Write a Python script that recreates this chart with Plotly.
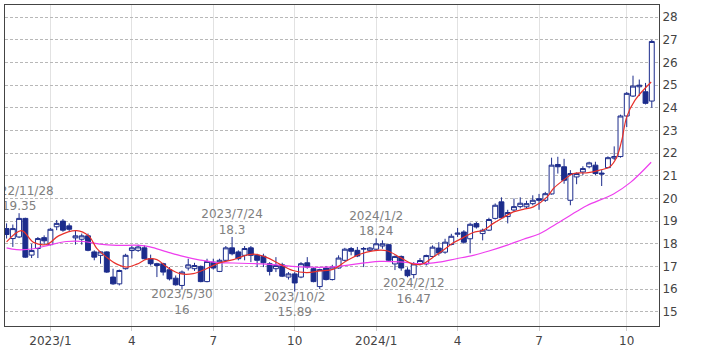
import pandas as pd
import plotly.graph_objects as go

# ---- weekly bars (week starting Monday) ----
start_week = "2022-11-14"
opens = [18.67, 18.23, 18.30, 19.12, 17.50, 17.79, 18.27, 17.96, 18.75, 19.00,
         18.79, 18.26, 18.20, 18.35, 17.64, 17.49, 17.64, 16.53, 16.23, 16.90,
         17.70, 17.71, 17.82, 17.34, 17.12, 17.12, 16.85, 16.48, 16.16, 16.93,
         16.90, 17.00, 16.33, 17.19, 16.78, 17.27, 17.82, 17.64, 17.49, 17.82,
         17.49, 17.45, 17.12, 16.90, 17.07, 16.53, 16.67, 16.53, 17.16, 16.90,
         16.11, 16.93, 16.42, 16.93, 17.27, 17.79, 17.71, 17.76, 17.71, 17.76,
         17.90, 17.96, 17.11, 17.44, 16.84, 16.64, 17.11, 17.11, 17.44, 17.81,
         17.63, 17.97, 18.42, 18.52, 18.22, 18.89, 18.45, 18.60, 19.12, 19.85,
         19.20, 19.49, 19.64, 19.63, 19.77, 19.99, 19.92, 20.20, 21.50, 21.40,
         19.92, 20.95, 21.17, 21.40, 21.47, 21.12, 21.36, 21.78, 21.85, 23.64,
         24.52, 24.93, 24.71, 24.30]
highs = [18.90, 18.85, 19.35, 19.15, 18.00, 18.30, 18.37, 18.70, 19.05, 19.09,
         18.90, 18.57, 18.45, 18.45, 17.71, 17.67, 17.67, 16.90, 16.86, 17.56,
         17.90, 17.96, 17.93, 17.52, 17.16, 17.16, 16.97, 16.60, 16.82, 17.34,
         17.16, 17.04, 17.34, 17.34, 17.34, 17.90, 18.30, 17.71, 17.90, 17.90,
         17.56, 17.56, 17.19, 17.41, 17.16, 16.75, 16.75, 17.19, 17.41, 16.97,
         16.90, 17.02, 17.07, 17.49, 17.82, 17.86, 17.86, 17.86, 17.86, 18.24,
         18.15, 18.00, 17.48, 17.48, 16.96, 17.19, 17.37, 17.52, 17.93, 18.07,
         18.22, 18.44, 18.70, 18.60, 18.93, 18.96, 18.67, 19.15, 19.78, 20.05,
         19.50, 20.00, 20.05, 19.90, 20.14, 20.20, 20.29, 21.80, 21.84, 21.75,
         21.25, 21.15, 21.42, 21.62, 21.62, 21.25, 21.86, 22.30, 23.70, 24.70,
         25.42, 25.25, 25.10, 27.00]
lows = [18.23, 17.86, 18.25, 17.38, 17.37, 17.37, 17.96, 17.93, 18.60, 18.53,
        18.53, 17.96, 17.96, 17.67, 17.27, 17.12, 16.71, 16.19, 16.16, 16.86,
        17.35, 17.64, 17.31, 17.04, 16.53, 16.60, 16.38, 16.15, 16.00, 16.82,
        16.80, 16.30, 16.30, 16.86, 16.75, 17.22, 17.49, 17.27, 17.27, 17.19,
        16.97, 16.97, 16.60, 16.75, 16.53, 16.42, 15.89, 16.48, 16.90, 16.30,
        16.00, 16.38, 16.38, 16.90, 17.22, 17.49, 17.41, 16.97, 17.64, 17.70,
        17.78, 17.20, 16.84, 16.81, 16.52, 16.47, 17.04, 17.04, 17.41, 17.48,
        17.56, 17.93, 18.30, 18.00, 17.58, 18.67, 18.15, 18.56, 19.07, 19.10,
        18.90, 19.41, 19.56, 19.55, 19.70, 19.50, 19.85, 20.17, 21.10, 20.65,
        19.70, 20.63, 21.03, 21.33, 21.03, 20.55, 21.33, 21.70, 21.80, 23.15,
        24.48, 24.52, 24.15, 24.00]
closes = [18.41, 18.67, 19.12, 17.41, 17.70, 18.23, 18.13, 18.64, 18.90, 18.60,
          18.64, 18.35, 18.35, 17.71, 17.41, 17.64, 16.75, 16.23, 16.82, 17.49,
          17.82, 17.86, 17.34, 17.12, 17.04, 16.75, 16.45, 16.19, 16.75, 17.07,
          17.04, 16.33, 17.22, 16.93, 17.27, 17.82, 17.56, 17.34, 17.79, 17.49,
          17.27, 17.16, 16.78, 17.04, 16.57, 16.67, 16.27, 17.12, 16.97, 16.33,
          16.86, 16.42, 16.97, 17.37, 17.76, 17.67, 17.46, 17.79, 17.81, 18.00,
          18.00, 17.27, 17.44, 16.93, 16.59, 17.11, 17.26, 17.48, 17.85, 17.59,
          18.07, 18.33, 18.47, 18.07, 18.86, 18.74, 18.60, 19.07, 19.70, 19.15,
          19.38, 19.64, 19.79, 19.77, 19.92, 19.92, 20.21, 21.47, 21.40, 20.80,
          21.10, 21.10, 21.32, 21.57, 21.10, 21.08, 21.80, 21.85, 23.64, 24.64,
          24.96, 25.00, 24.20, 26.93]

# ---- moving averages (bar position, value) ----
ma13_pos = [0, 2.4, 4.3, 6.5, 8.3, 11.2, 13.1, 14.4, 16, 17.6, 19.2, 20.8, 22.4,
            24, 25.6, 27.7, 29.8, 31.9, 34.1, 36.2, 37.2, 39.4, 41.5, 43.6, 45.7,
            47.9, 50, 52.2, 54.3, 56.4, 58.5, 60.7, 62.8, 64.9, 66.5, 68.1, 69.7,
            71.3, 72.9, 74.5, 76.1, 77.7, 79.3, 80.9, 82.5, 84.1, 86.3, 87.3, 88.9,
            90.5, 92.6, 94.7, 96.3, 97.4, 98.2, 99, 100.3, 102.9]
ma13_val = [18.08, 18.58, 18.06, 17.98, 18.35, 18.58, 18.35, 17.80, 17.40, 17.10,
            16.97, 17.10, 17.32, 17.30, 16.97, 16.68, 16.68, 16.90, 17.17, 17.30,
            17.40, 17.54, 17.40, 17.10, 16.82, 16.73, 16.80, 16.88, 17.25, 17.54,
            17.69, 17.69, 17.40, 17.10, 17.12, 17.41, 17.71, 18.04, 18.27, 18.50,
            18.60, 18.90, 19.16, 19.41, 19.52, 19.63, 20.07, 20.44, 20.81, 21.10,
            21.13, 21.25, 21.40, 21.82, 22.56, 23.60, 24.33, 25.14]
ma26_pos = [0, 1.6, 4.3, 6.9, 9.6, 12.3, 14.9, 17.6, 21.3, 22.9, 25.6, 28.2, 30.9,
            33.5, 36.2, 41.5, 46.8, 52.2, 57.5, 59.6, 62.8, 66, 69, 71.8, 74.5, 77,
            79.8, 82.5, 85, 87.3, 89.9, 92.6, 96.9, 99.6, 102.9]
ma26_val = [17.82, 17.74, 17.78, 17.95, 18.10, 18.10, 17.98, 17.93, 17.93, 17.86,
            17.64, 17.44, 17.28, 17.17, 17.15, 17.10, 16.98, 16.98, 17.17, 17.22,
            17.20, 17.12, 17.19, 17.34, 17.49, 17.68, 17.93, 18.20, 18.43, 18.80,
            19.24, 19.68, 20.20, 20.71, 21.60]

# ---- high / low labels ----
ann_pos = [2, 28, 36, 46, 59, 65]
ann_date = ["2022/11/28", "2023/5/30", "2023/7/24", "2023/10/2", "2024/1/2", "2024/2/12"]
ann_val = [19.35, 16.00, 18.30, 15.89, 18.24, 16.47]
ann_label = ["19.35", "16", "18.3", "15.89", "18.24", "16.47"]
ann_side = ["top", "bottom", "top", "bottom", "top", "bottom"]

weeks = pd.date_range(start_week, periods=len(opens), freq="W-MON")
idx = list(range(len(opens)))

# ticks: first weekly bar of Jan/Apr/Jul/Oct
tick_vals, tick_text = [], []
prev_m = None
for i, d in enumerate(weeks):
    if d.month != prev_m and d.month in (1, 4, 7, 10):
        tick_vals.append(i)
        tick_text.append(f"{d.year}/1" if d.month == 1 else str(d.month))
    prev_m = d.month

NAVY = "#1c2c8c"
FONT = "DejaVu Sans"

fig = go.Figure()
fig.add_trace(go.Candlestick(
    x=idx, open=opens, high=highs, low=lows, close=closes,
    increasing=dict(line=dict(color=NAVY, width=1), fillcolor="white"),
    decreasing=dict(line=dict(color=NAVY, width=1), fillcolor=NAVY),
    whiskerwidth=0, hoverinfo="skip",
))
fig.add_trace(go.Scatter(x=ma26_pos, y=ma26_val, mode="lines",
                         line=dict(color="#ee3fee", width=1.2, shape="spline")))
fig.add_trace(go.Scatter(x=ma13_pos, y=ma13_val, mode="lines",
                         line=dict(color="#e8302a", width=1.2, shape="spline")))
for p, dte, v, lab, side in zip(ann_pos, ann_date, ann_val, ann_label, ann_side):
    fig.add_trace(go.Scatter(
        x=[p], y=[v], mode="text", text=[f"{dte}<br>{lab}"],
        textposition=f"{side} center", cliponaxis=True,
        textfont=dict(family=FONT, size=12, color="#808080"),
    ))

fig.update_layout(
    width=709, height=354,
    margin=dict(l=5, r=50, t=5, b=28),
    paper_bgcolor="white", plot_bgcolor="white",
    showlegend=False, boxgap=0.22, boxgroupgap=0,
    font=dict(family=FONT, size=12, color="#444"),
)
fig.update_xaxes(
    range=[-0.25, 104.15], tickmode="array", tickvals=tick_vals, ticktext=tick_text,
    showgrid=True, gridcolor="#e2e2e2", gridwidth=1,
    ticks="outside", ticklen=4, tickcolor="#cccccc",
    showline=True, linecolor="#444", linewidth=1, mirror=True,
    zeroline=False, rangeslider=dict(visible=False),
    tickfont=dict(family=FONT, size=12, color="#444"),
)
fig.update_yaxes(
    side="right", range=[14.37, 28.54], tick0=15, dtick=1,
    showgrid=True, gridcolor="#b8b8b8", griddash="3px,2px", gridwidth=1,
    showline=True, linecolor="#444", linewidth=1, mirror=True,
    zeroline=False, ticks="",
    tickfont=dict(family=FONT, size=12, color="#444"),
)

fig.write_html("out.html")
